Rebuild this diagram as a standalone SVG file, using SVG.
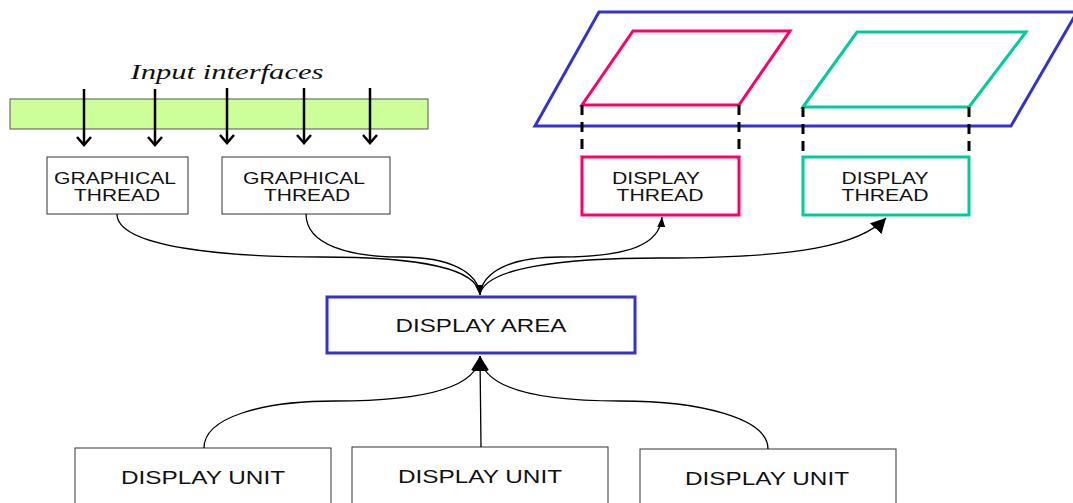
<svg xmlns="http://www.w3.org/2000/svg" width="1073" height="503" viewBox="0 0 1073 503">
<style>
.box{fill:#fff;stroke:#333;stroke-width:1}
.t{font-family:"Liberation Sans",Arial,sans-serif;fill:#111;text-anchor:middle}
.s15{font-size:16px}
.s17{font-size:18px}
.conn{fill:none;stroke:#000;stroke-width:1.3}
.dash{stroke:#000;stroke-width:3;stroke-dasharray:10,7;fill:none}
.in{stroke:#000;stroke-width:2.5;fill:none}
</style>
<defs>
<marker id="vhead" markerUnits="userSpaceOnUse" markerWidth="20" markerHeight="20" refX="10" refY="10" orient="auto" viewBox="0 0 20 20">
<polyline points="2,3 10,10 2,17" fill="none" stroke="#000" stroke-width="2.5"/>
</marker>
<marker id="sm" markerUnits="userSpaceOnUse" markerWidth="12" markerHeight="12" refX="10" refY="5" orient="auto" viewBox="0 0 12 10">
<path d="M0,1 L10,5 L0,9 Z" fill="#000"/>
</marker>
<marker id="lg" markerUnits="userSpaceOnUse" markerWidth="16" markerHeight="16" refX="13" refY="7" orient="auto" viewBox="0 0 14 14">
<path d="M0,0 L13,7 L0,14 Z" fill="#000"/>
</marker>
</defs>

<g id="screen">
<polygon points="599,12 1077,12 1011,126 535,126" fill="none" stroke="#3333cc" stroke-width="3"/>
<polygon points="582,105 633,31 790,31 739,105" fill="none" stroke="#ff0066" stroke-width="3"/>
<polygon points="803,107 857,32 1026,32 969,107" fill="none" stroke="#00cc99" stroke-width="3"/>
<path class="dash" d="M582,105 V157 M739,105 V157 M803,107 V157 M969,107 V157"/>
</g>

<g id="input-interfaces">
<rect x="10" y="99" width="418" height="30" fill="#ccff99" stroke="#555" stroke-width="1"/>
<text x="227" y="79" font-family="'Liberation Serif','Times New Roman',serif" font-style="italic" font-size="20" fill="#111" text-anchor="middle" textLength="193" lengthAdjust="spacingAndGlyphs">Input interfaces</text>
<g class="in" marker-end="url(#vhead)">
<line x1="84" y1="89" x2="84" y2="145"/>
<line x1="155" y1="89" x2="155" y2="145"/>
<line x1="227" y1="88" x2="227" y2="143"/>
<line x1="304" y1="88" x2="304" y2="143"/>
<line x1="370" y1="88" x2="370" y2="143"/>
</g>
</g>

<g id="graphical-thread-1">
<rect class="box" x="47" y="157" width="141" height="57"/>
<text class="t s15" x="115" y="184" textLength="122" lengthAdjust="spacingAndGlyphs">GRAPHICAL</text>
<text class="t s15" x="117" y="201" textLength="86" lengthAdjust="spacingAndGlyphs">THREAD</text>
</g>
<g id="graphical-thread-2">
<rect class="box" x="222" y="157" width="168" height="57"/>
<text class="t s15" x="304" y="184" textLength="122" lengthAdjust="spacingAndGlyphs">GRAPHICAL</text>
<text class="t s15" x="307" y="201" textLength="86" lengthAdjust="spacingAndGlyphs">THREAD</text>
</g>
<g id="display-thread-1">
<rect x="582" y="157" width="157" height="58" fill="#fff" stroke="#ff0066" stroke-width="3"/>
<text class="t s15" x="656" y="184" textLength="88" lengthAdjust="spacingAndGlyphs">DISPLAY</text>
<text class="t s15" x="660" y="201" textLength="87" lengthAdjust="spacingAndGlyphs">THREAD</text>
</g>
<g id="display-thread-2">
<rect x="803" y="157" width="166" height="58" fill="#fff" stroke="#00cc99" stroke-width="3"/>
<text class="t s15" x="885" y="184" textLength="87" lengthAdjust="spacingAndGlyphs">DISPLAY</text>
<text class="t s15" x="885" y="201" textLength="87" lengthAdjust="spacingAndGlyphs">THREAD</text>
</g>
<g id="display-area">
<rect x="327" y="297" width="308" height="56" fill="#fff" stroke="#3333cc" stroke-width="3"/>
<text class="t s17" x="481" y="332" textLength="171" lengthAdjust="spacingAndGlyphs">DISPLAY AREA</text>
</g>
<g id="display-unit-1">
<rect class="box" x="75" y="448" width="256" height="60"/>
<text class="t s17" x="203" y="484" textLength="164" lengthAdjust="spacingAndGlyphs">DISPLAY UNIT</text>
</g>
<g id="display-unit-2">
<rect class="box" x="352" y="447" width="256" height="60"/>
<text class="t s17" x="480" y="483" textLength="164" lengthAdjust="spacingAndGlyphs">DISPLAY UNIT</text>
</g>
<g id="display-unit-3">
<rect class="box" x="640" y="449" width="256" height="60"/>
<text class="t s17" x="767" y="485" textLength="164" lengthAdjust="spacingAndGlyphs">DISPLAY UNIT</text>
</g>

<g id="connectors">
<path class="conn" marker-end="url(#sm)" d="M117,214 C117,248 230,257 320,257 C420,257 478,268 480,295"/>
<path class="conn" marker-end="url(#sm)" d="M306,214 C306,245 350,257 400,257 C450,257 478,272 480,295"/>
<path class="conn" marker-end="url(#sm)" d="M480,295 C482,272 510,257 560,257 C630,257 660,244 662,217"/>
<path class="conn" marker-end="url(#lg)" d="M480,295 C484,268 560,258 660,258 C800,258 860,245 886,218"/>
<path class="conn" marker-end="url(#lg)" d="M204,448 C204,418 260,401 335,401 C430,401 478,386 480,356"/>
<path class="conn" marker-end="url(#lg)" d="M481,447 L480,356"/>
<path class="conn" marker-end="url(#lg)" d="M768,449 C768,418 700,401 620,401 C530,401 482,386 480,356"/>
</g>
</svg>
